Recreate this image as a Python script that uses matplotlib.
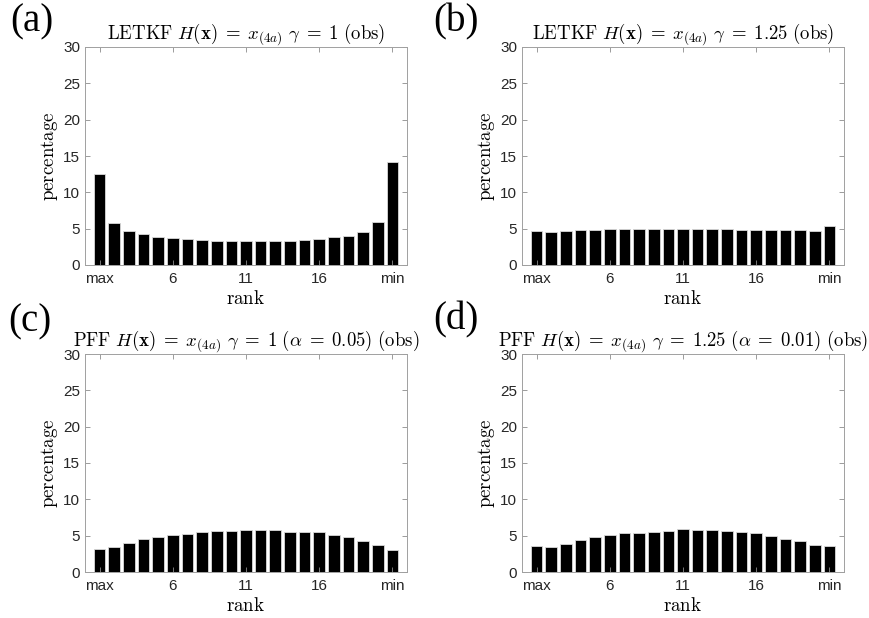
import numpy as np
import matplotlib
matplotlib.use('Agg')
import matplotlib.pyplot as plt

plt.rcParams['mathtext.fontset'] = 'cm'
plt.rcParams['font.family'] = ['Liberation Sans', 'DejaVu Sans']

# rank positions 1..21 (max ... min)
ranks = np.arange(1, 22)
tick_pos = [1, 6, 11, 16, 21]
tick_labels = ['max', '6', '11', '16', 'min']

# rank histogram percentages
letkf_g1 = [12.5, 5.8, 4.7, 4.2, 3.9, 3.7, 3.55, 3.5, 3.3, 3.35, 3.35,
            3.3, 3.35, 3.3, 3.5, 3.6, 3.8, 4.0, 4.55, 5.85, 14.2]
letkf_g125 = [4.7, 4.5, 4.65, 4.75, 4.85, 4.95, 5.0, 4.95, 4.95, 4.9, 4.9,
              4.95, 5.0, 5.0, 4.85, 4.85, 4.75, 4.75, 4.75, 4.65, 5.35]
pff_g1 = [3.1, 3.5, 4.0, 4.5, 4.8, 5.05, 5.25, 5.5, 5.6, 5.65, 5.75,
          5.75, 5.75, 5.55, 5.55, 5.5, 5.15, 4.85, 4.3, 3.7, 3.0]
pff_g125 = [3.6, 3.5, 3.85, 4.4, 4.75, 5.05, 5.4, 5.4, 5.55, 5.65, 5.85,
            5.8, 5.75, 5.6, 5.45, 5.3, 5.0, 4.55, 4.2, 3.65, 3.6]

# LaTeX-like spacing around relations
EQ = r'\;=\;'
titles = [r'$\mathrm{LETKF}\ H(\mathbf{x})' + EQ + r'x_{(4a)}\ \gamma' + EQ + r'1\ \mathrm{(obs)}$',
          r'$\mathrm{LETKF}\ H(\mathbf{x})' + EQ + r'x_{(4a)}\ \gamma' + EQ + r'1.25\ \mathrm{(obs)}$',
          r'$\mathrm{PFF}\ H(\mathbf{x})' + EQ + r'x_{(4a)}\ \gamma' + EQ + r'1\ (\alpha' + EQ + r'0.05)\ \mathrm{(obs)}$',
          r'$\mathrm{PFF}\ H(\mathbf{x})' + EQ + r'x_{(4a)}\ \gamma' + EQ + r'1.25\ (\alpha' + EQ + r'0.01)\ \mathrm{(obs)}$']
panel_tags = ['(a)', '(b)', '(c)', '(d)']


def rank_hist(ax, vals, title):
    # one rank histogram
    ax.bar(ranks, vals, width=0.8, color='k', edgecolor='#d9d9d9', linewidth=0.6)
    ax.set_xlim(0, 22)
    ax.set_ylim(0, 30)
    ax.set_yticks(np.arange(0, 31, 5))
    ax.set_xticks(tick_pos)
    ax.set_xticklabels(tick_labels)
    ax.tick_params(direction='in', top=True, right=True, length=3.5,
                   width=0.6, color='#8c8c8c', labelcolor='#262626',
                   labelsize=11)
    ax.tick_params(axis='x', pad=5)
    ax.tick_params(axis='y', pad=3.5)
    for s in ax.spines.values():
        s.set_color('#a0a0a0')
        s.set_linewidth(0.7)
    ax.set_title(title, fontsize=13.5, pad=6)
    ax.set_xlabel(r'$\mathrm{rank}$', fontsize=13.6, labelpad=3)
    ax.set_ylabel(r'$\mathrm{percentage}$', fontsize=13.6, labelpad=2)


fig = plt.figure(figsize=(8.69, 6.18), dpi=100)
W, H = 869.0, 618.0
boxes = [(85, 47), (522, 47), (85, 354), (522, 354)]
data = [letkf_g1, letkf_g125, pff_g1, pff_g125]
for (x0, y0), vals, t in zip(boxes, data, titles):
    ax = fig.add_axes([x0 / W, 1 - (y0 + 218) / H, 322 / W, 218 / H])
    rank_hist(ax, vals, t)

# panel letters
tag_xy = [(10, 3), (433, 3), (8, 303), (433, 301)]
for (tx, ty), tag in zip(tag_xy, panel_tags):
    fig.text(tx / W, 1 - ty / H, tag, fontsize=28,
             family=['Liberation Serif', 'Times New Roman', 'DejaVu Serif'],
             ha='left', va='top')

fig.savefig('out.png', dpi=100)
